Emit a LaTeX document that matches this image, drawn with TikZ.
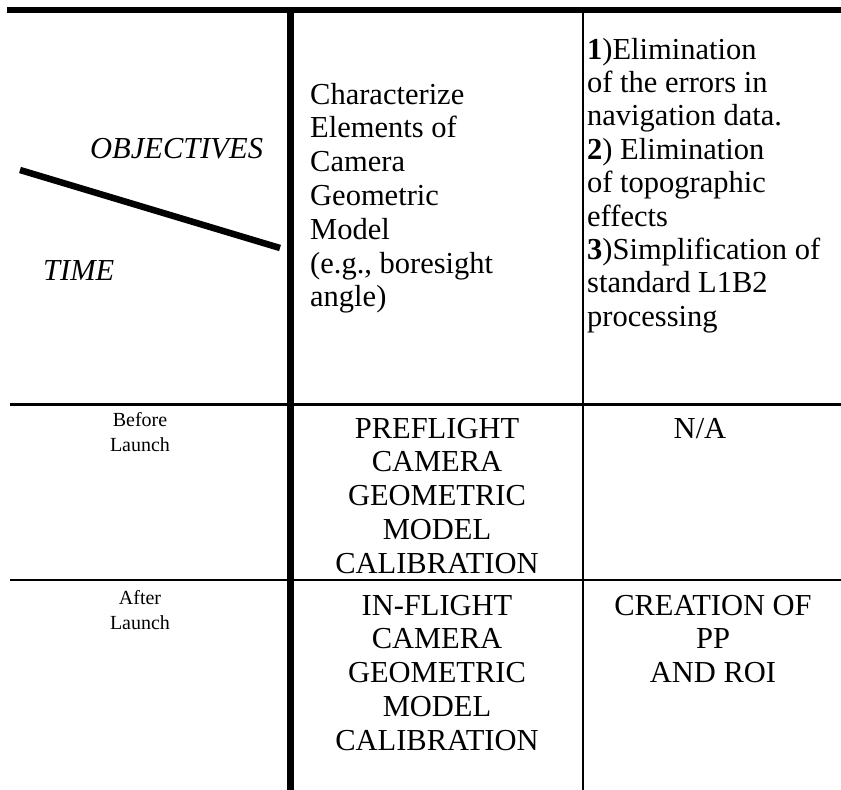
\documentclass[tikz,border=0pt]{standalone}
\usepackage{fontspec}
\setmainfont{Liberation Serif}
\begin{document}
\begin{tikzpicture}[x=1pt,y=-1pt,
    txt/.style={font=\fontsize{30.5pt}{34pt}\selectfont, inner sep=0pt},
    lbl/.style={font=\fontsize{20pt}{25pt}\selectfont, inner sep=0pt}]
\newcommand\colA{290}
\newcommand\colB{583}
\newcommand\rowA{404}
\newcommand\rowB{580}
\useasboundingbox (0,0) rectangle (841,790);

% table rules
\draw [line width=5.5pt] (7,10) -- (841,10);
\draw [line width=7pt] (\colA,8) -- (\colA,790);
\draw [line width=1.6pt] (\colB,10) -- (\colB,790);
\draw [line width=3pt] (10,\rowA) -- (841,\rowA);
\draw [line width=1.6pt] (10,\rowB) -- (841,\rowB);

% corner cell
\draw [line width=6.5pt] (20,170) -- (280,248);
\node (objectives) at (90,158) [txt, anchor=base west] {\itshape OBJECTIVES};
\node (time) at (43,280) [txt, anchor=base west] {\itshape TIME};

% header, second column
\foreach \t [count=\i from 0] in {Characterize, Elements of, Camera, Geometric, Model, {(e.g., boresight}, angle)} {
    \node (geom-\i) at (310, 104+\i*33.8) [txt, anchor=base west] {\t};
}
% header, third column
\foreach \t [count=\i from 0] in {{\textbf{1})Elimination}, of the errors in, navigation data., {\textbf{2}) Elimination}, of topographic, effects, {\textbf{3})Simplification of}, standard L1B2, processing} {
    \node (goal-\i) at (587, 59+\i*33.4) [txt, anchor=base west] {\t};
}

% before launch
\node (before) at (140,\rowA+22) [lbl, anchor=base] {Before};
\node (beforelaunch) at (140,\rowA+47) [lbl, anchor=base] {Launch};
\foreach \t [count=\i from 0] in {PREFLIGHT, CAMERA, GEOMETRIC, MODEL, CALIBRATION} {
    \node (pre-\i) at (437, \rowA+34+\i*33.8) [txt, anchor=base] {\t};
}
\node (na) at (700,\rowA+34) [txt, anchor=base] {N/A};

% after launch
\node (after) at (140,\rowB+24) [lbl, anchor=base] {After};
\node (afterlaunch) at (140,\rowB+49) [lbl, anchor=base] {Launch};
\foreach \t [count=\i from 0] in {IN-FLIGHT, CAMERA, GEOMETRIC, MODEL, CALIBRATION} {
    \node (inf-\i) at (437, \rowB+35+\i*33.8) [txt, anchor=base] {\t};
}
\foreach \t [count=\i from 0] in {CREATION OF, PP, AND ROI} {
    \node (roi-\i) at (713, \rowB+35+\i*33.8) [txt, anchor=base] {\t};
}

\end{tikzpicture}
\end{document}
